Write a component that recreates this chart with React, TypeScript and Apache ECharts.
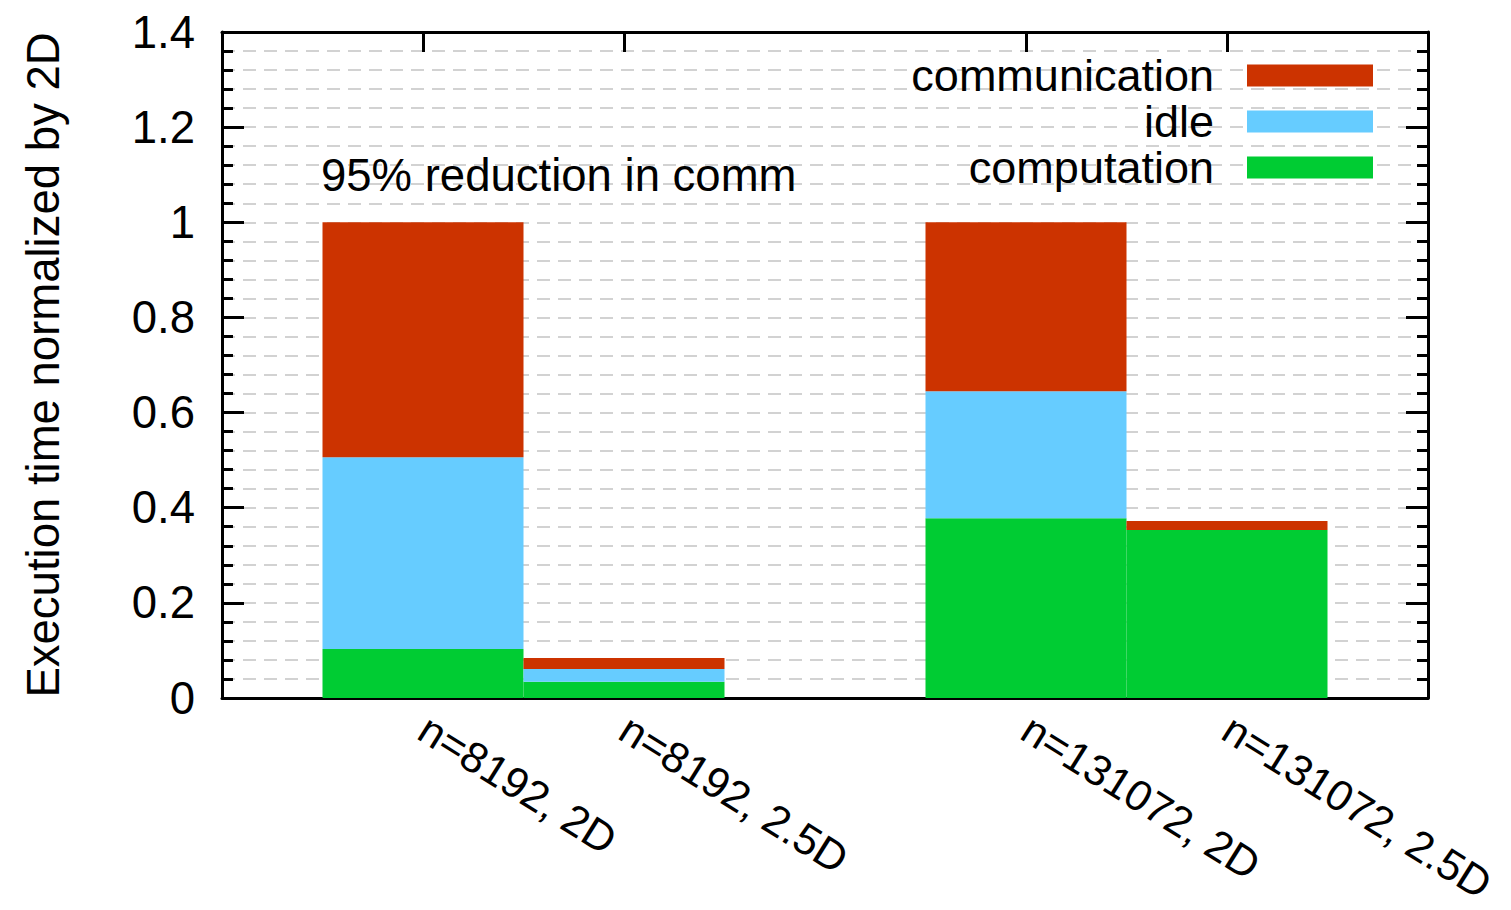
import React, { useEffect, useRef } from 'react';
import * as echarts from 'echarts';

const categories = ['', 'n=8192, 2D', 'n=8192, 2.5D', '', 'n=131072, 2D', 'n=131072, 2.5D', ''];
const computation = [null, 0.103, 0.034, null, 0.378, 0.353, null];
const idle = [null, 0.403, 0.027, null, 0.267, 0, null];
const communication = [null, 0.494, 0.023, null, 0.355, 0.019, null];
const legendOrder = ['communication', 'idle', 'computation'];
const yMin = 0;
const yMax = 1.4;
const yInterval = 0.2;
const annotationText = '95% reduction in comm';
const yTitle = 'Execution time normalized by 2D';

const FONT = '"Liberation Sans", Arial, Helvetica, sans-serif';
const FS = 45.5;
const COLORS = { communication: '#CC3300', idle: '#66CCFF', computation: '#00CC33' };

export default function App() {
  const ref = useRef<HTMLDivElement>(null);
  useEffect(() => {
    if (!ref.current) return;
    const chart = echarts.init(ref.current, undefined, { renderer: 'svg' });
    const gridLine = { show: true, lineStyle: { color: '#c4c4c4', width: 1.5, type: [13, 8] as any } };
    const frame = { show: true, onZero: false, lineStyle: { color: '#000', width: 3 } };
    chart.setOption({
      animation: false,
      backgroundColor: '#fff',
      grid: { left: 222, right: 83, top: 32, bottom: 212, containLabel: false, outerBoundsMode: 'none' },
      legend: {
        data: legendOrder,
        orient: 'vertical',
        right: 138,
        top: 53,
        align: 'right',
        itemWidth: 126,
        itemHeight: 22,
        itemGap: 1,
        icon: 'rect',
        padding: 0,
        selectedMode: false,
        textStyle: { fontSize: 45, color: '#000', fontFamily: FONT, padding: [0, 28, 0, 0], lineHeight: 44.5 },
      },
      xAxis: [
        {
          type: 'category',
          data: categories,
          boundaryGap: false,
          position: 'bottom',
          axisLine: frame,
          axisTick: { show: false },
          axisLabel: { interval: 0, rotate: -32, fontSize: 43, color: '#000', margin: 27, fontFamily: FONT, hideOverlap: false },
          splitLine: { show: false },
        },
        {
          type: 'category',
          data: categories,
          boundaryGap: false,
          position: 'top',
          axisLine: frame,
          axisTick: {
            show: true,
            inside: true,
            length: 20,
            interval: (_i: number, v: string) => v !== '',
            lineStyle: { color: '#000', width: 3 },
          },
          axisLabel: { show: false },
          splitLine: { show: false },
        },
      ],
      yAxis: [
        {
          type: 'value',
          min: yMin,
          max: yMax,
          interval: yInterval,
          position: 'left',
          name: yTitle,
          nameLocation: 'middle',
          nameRotate: 90,
          nameGap: 156,
          nameTextStyle: { fontSize: FS, color: '#000', fontFamily: FONT },
          axisLine: frame,
          axisTick: { show: true, inside: true, length: 22, lineStyle: { color: '#000', width: 3 } },
          minorTick: { show: true, splitNumber: 5, length: 11, lineStyle: { color: '#000', width: 3 } },
          axisLabel: { fontSize: FS, color: '#000', margin: 27, fontFamily: FONT },
          splitLine: gridLine,
          minorSplitLine: gridLine,
        },
        {
          type: 'value',
          min: yMin,
          max: yMax,
          interval: yInterval,
          position: 'right',
          axisLine: frame,
          axisTick: { show: true, inside: true, length: 22, lineStyle: { color: '#000', width: 3 } },
          minorTick: { show: true, splitNumber: 5, length: 11, lineStyle: { color: '#000', width: 3 } },
          axisLabel: { show: false },
          splitLine: { show: false },
        },
      ],
      series: [
        { name: 'computation', type: 'bar', stack: 't', data: computation, barWidth: '100%', itemStyle: { color: COLORS.computation } },
        { name: 'idle', type: 'bar', stack: 't', data: idle, barWidth: '100%', itemStyle: { color: COLORS.idle } },
        { name: 'communication', type: 'bar', stack: 't', data: communication, barWidth: '100%', itemStyle: { color: COLORS.communication } },
      ],
      graphic: [
        {
          type: 'text',
          x: 321,
          y: 175,
          z: 10,
          style: { text: annotationText, fontSize: FS, fill: '#000', fontFamily: FONT, align: 'left', verticalAlign: 'middle' },
        },
      ],
    });
    return () => chart.dispose();
  }, []);
  return (
    <div
      ref={ref}
      style={{ position: 'fixed', left: 0, top: 0, width: 1511, height: 910, background: '#fff' }}
    />
  );
}
